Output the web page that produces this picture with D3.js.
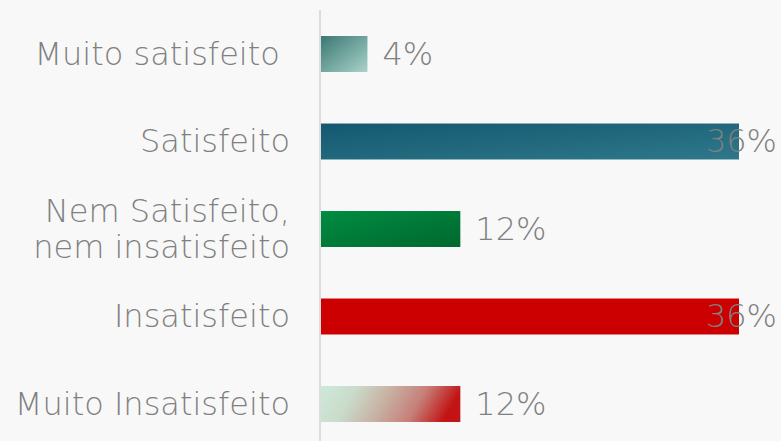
<!DOCTYPE html>
<html><head><meta charset="utf-8">
<script src="https://cdn.jsdelivr.net/npm/d3@7"></script>
<style>
html,body{margin:0;padding:0;background:#f8f8f8;}
text{font-family:"DejaVu Sans",sans-serif;font-weight:200;fill:#808080;}
</style></head>
<body><svg id="c" width="781" height="441"></svg>
<script>
const categories = [["Muito satisfeito "], ["Satisfeito"], ["Nem Satisfeito,", "nem insatisfeito"], ["Insatisfeito"], ["Muito Insatisfeito"]];
const values = [4, 36, 12, 36, 12];
const valueLabels = ["4%", "36%", "12%", "36%", "12%"];
const gradients = [
  [[0, "#3a7872"], [1, "#a8d2ca"]],
  [[0, "#135870"], [1, "#2f788a"]],
  [[0, "#008c42"], [1, "#00682e"]],
  [[0, "#cc0000"], [1, "#cc0000"]],
  [[0, "#cde9d9"], [0.25, "#cadccb"], [0.5, "#c8b2a4"], [0.75, "#c6807a"], [1, "#c21414"]]
];
const gradDir = [[0, 0, 1, 1], [0, 0, 1, 1], [0, 0, 1, 1], [0, 0, 1, 0], [0, 0, 1, 0.15]];

const W = 781, H = 441;
const svg = d3.select("#c");
const defs = svg.append("defs");
gradients.forEach((g, i) => {
  const d = gradDir[i];
  const lg = defs.append("linearGradient").attr("id", "g" + i)
    .attr("x1", d[0]).attr("y1", d[1]).attr("x2", d[2]).attr("y2", d[3]);
  g.forEach(s => lg.append("stop").attr("offset", s[0]).attr("stop-color", s[1]));
});

const idx = d3.range(values.length);
const y = d3.scaleBand().domain(idx).range([10.25, 447.75]).paddingInner(0.589).paddingOuter(0.2945);
const x = d3.scaleLinear().domain([0, 36]).range([321, 739]);

svg.append("line").attr("x1", 320).attr("x2", 320).attr("y1", 10).attr("y2", H)
  .attr("stroke", "#dcdcdc").attr("stroke-width", 2);

svg.selectAll("rect.bar").data(idx).join("rect").attr("class", "bar")
  .attr("x", x(0)).attr("y", d => y(d))
  .attr("width", d => x(values[d]) - x(0)).attr("height", y.bandwidth())
  .attr("fill", d => `url(#g${d})`);

const fs = 32;
svg.selectAll("text.cat").data(idx).join("text").attr("class", "cat")
  .attr("x", 290).attr("text-anchor", "end").style("font-size", fs + "px")
  .style("white-space", "pre")
  .each(function(d) {
    const lines = categories[d];
    const cy = y(d) + y.bandwidth() / 2;
    const lh = 36;
    const t = d3.select(this);
    lines.forEach((l, k) => {
      t.append("tspan").attr("x", 290)
        .attr("y", cy + (k - (lines.length - 1) / 2) * lh)
        .attr("dy", "0.33em").text(l);
    });
  });

svg.selectAll("text.val").data(idx).join("text").attr("class", "val")
  .style("font-size", fs + "px")
  .attr("y", d => y(d) + y.bandwidth() / 2).attr("dy", "0.33em")
  .attr("x", d => x(values[d]) + 15 > 700 ? 777 : x(values[d]) + 15)
  .attr("text-anchor", d => x(values[d]) + 15 > 700 ? "end" : "start")
  .text(d => valueLabels[d]);
</script></body></html>
